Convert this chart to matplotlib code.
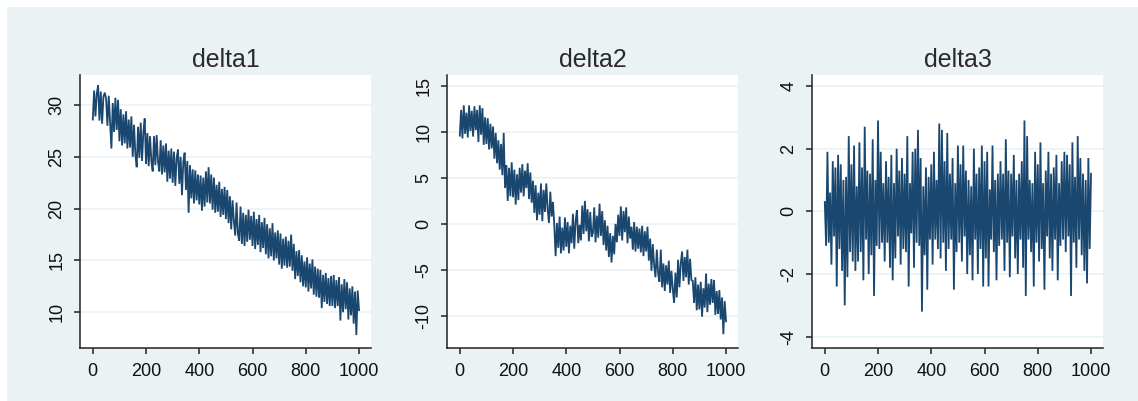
import numpy as np
import matplotlib
matplotlib.use("Agg")
import matplotlib.pyplot as plt
from matplotlib.patches import Rectangle

# time index 0..1000, one value read every 5 steps
t = np.arange(0, 1001, 5)

delta1 = [
    28.6, 31.4, 28.9, 31.1, 31.9, 28.5, 31.3, 28.2, 30.8, 31.2,
    30.6, 28.0, 30.9, 28.3, 25.8, 30.2, 27.4, 30.7, 27.6, 30.5,
    26.5, 29.6, 26.1, 29.1, 26.3, 29.4, 25.8, 28.6, 25.9, 28.9,
    25.0, 28.1, 25.2, 24.0, 27.9, 24.9, 28.3, 24.6, 27.4, 28.7,
    24.3, 27.3, 24.1, 27.0, 24.6, 23.6, 27.0, 24.2, 27.1, 24.5,
    23.6, 26.6, 23.3, 26.1, 23.5, 26.3, 22.6, 25.6, 22.9, 25.8,
    22.5, 25.5, 22.2, 24.9, 25.7, 22.4, 25.0, 21.3, 24.5, 25.4,
    21.8, 24.6, 19.6, 24.2, 21.0, 23.8, 20.5, 23.7, 20.8, 23.3,
    20.4, 23.2, 19.8, 23.0, 20.2, 23.6, 20.6, 24.0, 20.5, 23.3,
    19.9, 23.0, 19.6, 22.3, 19.7, 22.6, 19.2, 21.9, 19.4, 22.1,
    19.0, 21.8, 18.6, 21.2, 18.0, 20.8, 18.8, 17.4, 20.6, 17.6,
    16.9, 20.2, 16.6, 19.6, 16.4, 19.4, 16.8, 19.9, 17.0, 19.3,
    16.4, 19.7, 16.1, 19.0, 16.5, 19.4, 15.8, 18.7, 16.2, 19.1,
    15.6, 18.5, 15.2, 18.1, 15.4, 18.6, 15.0, 17.7, 15.2, 17.9,
    14.6, 17.6, 14.2, 17.1, 14.5, 17.3, 14.3, 16.9, 14.4, 17.5,
    14.0, 16.6, 13.2, 15.9, 13.5, 16.0, 12.9, 15.5, 12.5, 14.9,
    12.4, 15.3, 12.0, 14.7, 12.3, 15.1, 11.7, 14.4, 11.5, 14.2,
    11.4, 14.1, 10.4, 13.6, 11.0, 13.8, 10.8, 13.3, 10.6, 13.5,
    10.6, 13.6, 10.4, 13.1, 10.6, 13.4, 9.2, 12.7, 10.0, 13.2,
    10.3, 12.9, 9.3, 12.3, 9.7, 12.5, 8.9, 12.0, 7.8, 12.1,
    10.2,
]

delta2 = [
    9.6, 12.4, 9.3, 12.9, 9.8, 12.1, 9.4, 12.9, 10.1, 12.3,
    9.5, 12.8, 10.2, 12.4, 8.9, 12.9, 9.7, 12.6, 8.6, 11.6,
    8.7, 11.5, 8.1, 10.9, 8.2, 10.6, 7.1, 9.9, 6.6, 9.1,
    5.9, 8.7, 5.3, 9.9, 3.9, 6.4, 2.5, 6.1, 3.0, 6.7,
    2.9, 5.9, 2.1, 5.4, 2.6, 6.1, 3.4, 6.5, 3.0, 5.8,
    3.9, 6.6, 2.7, 5.6, 2.3, 4.7, 1.2, 4.2, 0.4, 3.4,
    1.0, 4.4, 0.3, 3.7, 1.3, 4.4, 1.6, 0.1, 3.5, 0.8,
    2.4, -0.2, -3.5, 0.1, -2.6, 0.8, -3.2, -0.4, -2.9, 0.7,
    -2.5, 0.2, -3.2, -0.2, -2.1, 1.1, -2.7, 0.3, 1.5, -2.1,
    -0.1, -1.8, 2.0, -1.1, 2.5, -0.8, 1.6, -1.9, 1.3, -1.4,
    -1.0, 1.8, -2.0, 0.9, -1.5, 2.2, -1.3, 1.4, -2.3, 0.4,
    -2.9, -0.2, -3.6, -1.0, -4.2, -1.3, -3.3, 0.0, -2.0, 1.0,
    -1.3, 1.9, -1.8, 1.4, -0.9, 1.8, -2.1, 0.8, -1.6, -0.3,
    -2.8, 0.2, -3.0, -0.3, -2.7, -0.5, -3.1, -0.2, -3.5, -0.8,
    -3.0, -0.3, -4.0, -1.6, -5.1, -2.2, -4.5, -5.8, -2.8, -5.4,
    -6.3, -2.8, -6.9, -4.3, -7.3, -4.5, -6.6, -4.0, -7.5, -5.1,
    -7.1, -8.6, -5.3, -8.0, -3.9, -6.9, -4.3, -3.0, -6.2, -3.6,
    -5.8, -2.8, -6.6, -3.8, -6.1, -6.2, -8.6, -5.8, -9.4, -6.6,
    -9.3, -6.3, -10.1, -7.0, -9.1, -5.4, -9.6, -6.5, -8.8, -6.0,
    -8.6, -6.1, -9.9, -7.3, -9.8, -7.2, -10.4, -8.0, -12.0, -8.4,
    -10.6,
]

delta3 = [
    0.3, -1.1, 1.9, -1.0, 0.6, -1.7, 1.6, -0.8, 1.4, -2.4,
    1.8, -1.2, 1.5, -1.9, 1.0, -3.0, 1.1, -2.1, 2.4, -1.3,
    1.5, -1.6, 2.1, -1.9, 0.8, -1.6, 2.2, -1.3, 1.4, -2.2,
    2.7, -0.9, 1.3, -2.0, 1.2, -1.4, 2.3, -2.7, 1.0, -1.1,
    2.9, -1.2, 1.9, -1.0, 0.9, -1.6, 1.6, -1.0, 1.1, -1.8,
    1.8, -2.2, 0.9, -1.5, 2.0, -0.8, 1.3, -1.7, 1.7, -1.2,
    1.2, -1.3, 2.4, -2.4, 0.9, -0.7, 1.9, -1.8, 2.0, -1.0,
    2.6, -1.1, 1.7, -3.2, 0.8, -1.4, 1.4, -2.5, 1.1, -0.9,
    1.5, -1.7, 1.9, -0.9, 1.0, -1.2, 2.8, -1.5, 2.6, -1.0,
    1.6, -1.9, 2.5, -1.2, 1.2, -0.9, 1.7, -2.5, 0.9, -1.3,
    2.1, -1.0, 1.5, -1.6, 2.1, -0.8, 1.3, -2.0, 1.0, -1.4,
    0.8, -2.2, 2.0, -0.9, 1.2, -2.0, 1.4, -1.2, 2.1, -2.4,
    1.6, -1.5, 1.9, -2.4, 0.7, -0.9, 2.1, -1.3, 1.0, -2.2,
    1.2, -1.1, 1.6, -0.9, 1.2, -1.9, 2.3, -1.0, 1.3, -2.1,
    1.2, -0.8, 1.8, -1.5, 1.0, -2.0, 1.2, -0.9, 1.6, -1.8,
    2.9, -2.7, 2.4, -0.9, 1.0, -1.3, 0.9, -2.4, 1.9, -1.0,
    1.5, -1.6, 2.2, -1.2, 0.9, -2.5, 1.3, -0.8, 1.9, -1.5,
    1.2, -1.9, 1.4, -0.9, 1.8, -2.2, 0.9, -1.1, 1.6, -0.9,
    1.9, -1.3, 1.8, -0.8, 1.5, -2.7, 2.2, -1.0, 1.1, -1.8,
    2.4, -0.9, 1.7, -1.4, 1.2, -1.9, 1.0, -2.3, 1.7, -1.2,
    1.2,
]

titles = ["delta1", "delta2", "delta3"]
series = [delta1, delta2, delta3]
yticks = [[10, 15, 20, 25, 30], [-10, -5, 0, 5, 10, 15], [-4, -2, 0, 2, 4]]
ylims = [(6.55, 32.9), (-13.5, 16.2), (-4.36, 4.35)]
xticks = [0, 200, 400, 600, 800, 1000]

W, H = 1138, 401
navy = "#1a476f"
bg = "#eaf2f3"

plt.rcParams["font.family"] = ["Liberation Sans", "DejaVu Sans"]

fig = plt.figure(figsize=(W / 100, H / 100), dpi=100, facecolor="white")
# light background panel (white margin top/left)
fig.patches.append(Rectangle((7 / W, 0), 1, 1 - 7 / H, transform=fig.transFigure,
                             facecolor=bg, edgecolor="none", zorder=-10))

lefts = [80, 447, 812]
for i in range(3):
    ax = fig.add_axes([lefts[i] / W, (H - 348) / H, 291 / W, 273 / H])
    ax.set_zorder(2)
    ax.set_facecolor("white")
    ax.plot(t, series[i], color=navy, lw=1.3, solid_joinstyle="miter")
    ax.set_xlim(-48, 1045)
    ax.set_ylim(*ylims[i])
    ax.set_xticks(xticks)
    ax.set_yticks(yticks[i])
    ax.set_yticklabels([str(v) for v in yticks[i]], rotation=90, va="center")
    ax.yaxis.grid(True, color=bg, lw=1.2)
    ax.set_axisbelow(True)
    for s in ["top", "right"]:
        ax.spines[s].set_visible(False)
    for s in ["left", "bottom"]:
        ax.spines[s].set_color("#222222")
        ax.spines[s].set_linewidth(1.1)
    ax.tick_params(direction="out", length=4.5, width=1.1, color="#222222",
                   labelsize=13, labelcolor="#111111", pad=6)
    ax.set_title(titles[i], fontsize=18, color="#2a2a2a", pad=6)

fig.savefig("out.png", dpi=100, facecolor="white")
